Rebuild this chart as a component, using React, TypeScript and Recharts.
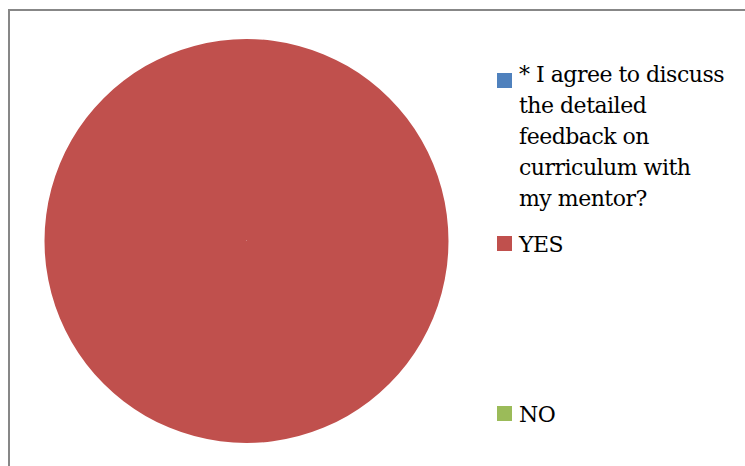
import React from 'react'
import { PieChart, Pie, Cell, Legend } from 'recharts'

const CATEGORIES = [
  '* I agree to discuss the detailed feedback on curriculum with my mentor?',
  'YES',
  'NO',
]
const VALUES = [0, 100, 0]
const COLORS = ['#4F81BD', '#C0504D', '#9BBB59']

const data = CATEGORIES.map((name, i) => ({ name, value: VALUES[i] }))

const FONT = '"DejaVu Serif", "Liberation Serif", serif'

function SideLegend() {
  // spacing mimics the Excel legend: long wrapped entry, then YES, then NO far below
  const gaps = [0, 15, 139]
  return (
    <div style={{ fontFamily: FONT, fontSize: 22, letterSpacing: -0.5, lineHeight: '31px', color: '#000' }}>
      {CATEGORIES.map((name, i) => (
        <div key={name} style={{ display: 'flex', marginTop: gaps[i] }}>
          <div
            style={{
              width: 15,
              height: 15,
              background: COLORS[i],
              marginTop: i === 0 ? 14 : 7,
              marginRight: 7,
              flexShrink: 0,
            }}
          />
          <div style={{ width: 209 }}>{name}</div>
        </div>
      ))}
    </div>
  )
}

export default function App() {
  return (
    <div
      style={{
        position: 'fixed',
        left: 8,
        top: 9,
        width: 737,
        height: 457,
        borderLeft: '2px solid #878787',
        borderTop: '2px solid #878787',
        background: '#fff',
        overflow: 'hidden',
      }}
    >
      <PieChart width={735} height={455} margin={{ top: 0, right: 0, bottom: 0, left: 0 }}>
        <Pie
          data={data}
          dataKey="value"
          nameKey="name"
          cx={236.5}
          cy={230}
          outerRadius={202}
          startAngle={90}
          endAngle={-270}
          stroke="none"
          isAnimationActive={false}
        >
          {data.map((d, i) => (
            // empty slices would leave a speck at the centre
            <Cell key={d.name} fill={d.value > 0 ? COLORS[i] : 'none'} stroke="none" />
          ))}
        </Pie>
        <Legend
          content={() => <SideLegend />}
          wrapperStyle={{ position: 'absolute', left: 487, top: 47.5, width: 245 }}
        />
      </PieChart>
    </div>
  )
}
